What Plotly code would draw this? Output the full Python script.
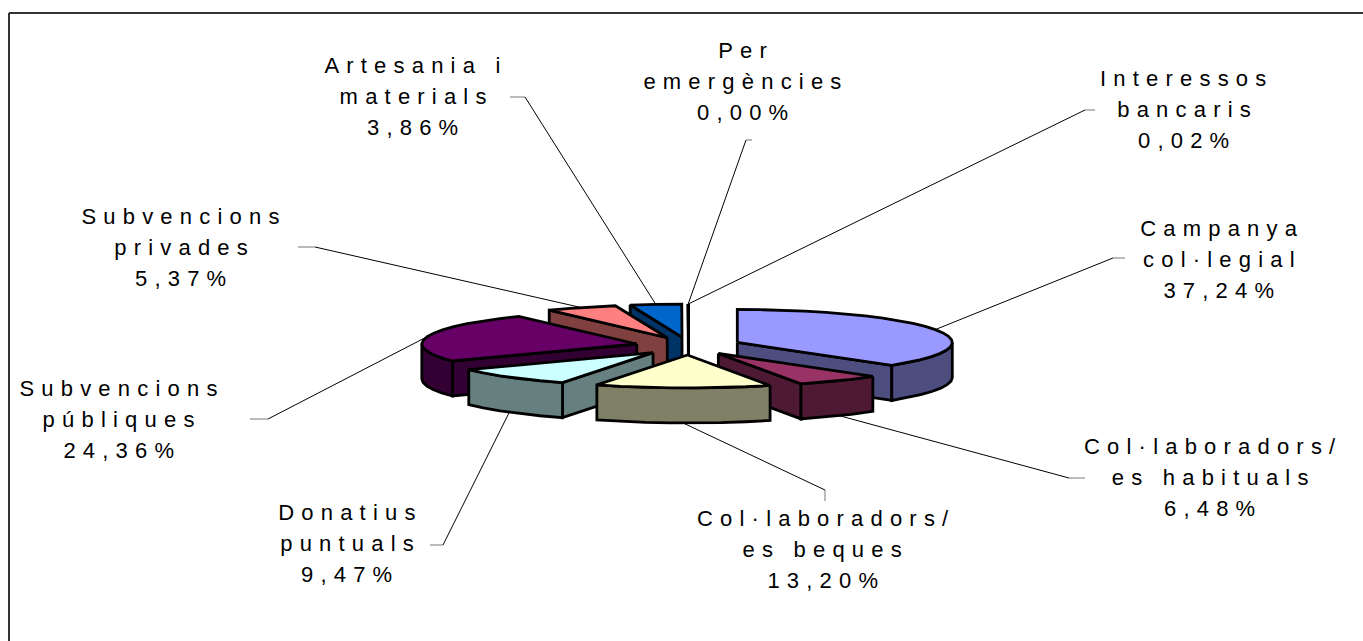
import math
import plotly.graph_objects as go

names = ["Campanya col·legial", "Col·laboradors/es habituals", "Col·laboradors/es beques",
         "Donatius puntuals", "Subvencions públiques", "Subvencions privades",
         "Artesania i materials", "Per emergències", "Interessos bancaris"]
values = [37.24, 6.48, 13.20, 9.47, 24.36, 5.37, 3.86, 0.00, 0.02]
pct_labels = ["37,24%", "6,48%", "13,20%", "9,47%", "24,36%", "5,37%", "3,86%", "0,00%", "0,02%"]
label_lines = [["Campanya", "col·legial"], ["Col·laboradors/", "es habituals"],
               ["Col·laboradors/", "es beques"], ["Donatius", "puntuals"],
               ["Subvencions", "públiques"], ["Subvencions", "privades"],
               ["Artesania i", "materials"], ["Per", "emergències"], ["Interessos", "bancaris"]]
top_colors = ["#9999FF", "#993366", "#FFFFCC", "#CCFFFF", "#660066", "#FF8080", "#0066CC", "#000000", "#000000"]
side_colors = ["#4D4D80", "#4D1933", "#808066", "#668080", "#330033", "#804040", "#003366", "#000000", "#000000"]

# layout in pixels
CX, CY, RX, RY, DEPTH, EXPL = 688.5, 346, 215, 33, 35, 0.2465
label_pos = [(1222, 228), (1213, 446), (826, 518), (350, 512), (122, 388), (184, 216), (416, 65), (746, 50), (1187, 78)]
elbows = [[(1125, 258), (1113, 258)], [(1085, 478), (1069, 478)], [(825, 501), (825, 490)],
          [(430, 545), (443, 545)], [(250, 419), (268, 419)], [(298, 247), (315, 247)],
          [(510, 97), (525, 97)], [(752, 140), (746, 140)], [(1095, 110), (1085, 110)]]
LINE_H = 31
FONT = 22
SPACING = 7.2

fig = go.Figure()
total = sum(values)
slices = []
cum = 0.0
for i, v in enumerate(values):
    a0 = cum / total * 2 * math.pi
    cum += v
    a1 = cum / total * 2 * math.pi
    mid = (a0 + a1) / 2
    ax = CX + EXPL * RX * math.sin(mid)
    ay = CY - 9 * math.cos(mid)
    slices.append((ay, i, a0, a1, mid, ax))


def rim(ax, ay, a, dz=0.0):
    return ax + RX * math.sin(a), ay - RY * math.cos(a) + dz


def poly(pts, fill):
    fig.add_trace(go.Scatter(x=[p[0] for p in pts] + [pts[0][0]], y=[p[1] for p in pts] + [pts[0][1]],
                             mode="lines", fill="toself", fillcolor=fill,
                             line=dict(color="#000000", width=2.8), hoverinfo="skip", showlegend=False))


for ay, i, a0, a1, mid, ax in sorted(slices):
    side = side_colors[i]
    if math.sin(a0) < -1e-9:
        p = rim(ax, ay, a0)
        poly([(ax, ay), p, (p[0], p[1] + DEPTH), (ax, ay + DEPTH)], side)
    if math.sin(a1) > 1e-9:
        p = rim(ax, ay, a1)
        poly([(ax, ay), p, (p[0], p[1] + DEPTH), (ax, ay + DEPTH)], side)
    lo, hi = max(a0, math.pi / 2), min(a1, 3 * math.pi / 2)
    if hi > lo:
        n = max(2, int((hi - lo) / math.radians(6)))
        arc = [lo + (hi - lo) * k / n for k in range(n + 1)]
        poly([rim(ax, ay, a) for a in arc] + [rim(ax, ay, a, DEPTH) for a in reversed(arc)], side)
    n = max(2, int((a1 - a0) / math.radians(6)))
    poly([(ax, ay)] + [rim(ax, ay, a0 + (a1 - a0) * k / n) for k in range(n + 1)], top_colors[i])

frame = dict(color="#333333", width=2)
shapes = [dict(type="line", xref="x", yref="y", x0=9, y0=13, x1=9, y1=641, line=frame, layer="below"),
          dict(type="line", xref="x", yref="y", x0=9, y0=13, x1=1363, y1=13, line=frame, layer="below")]
for ay, i, a0, a1, mid, ax in slices:
    front = math.cos(mid) < -0.3
    x0, y0 = rim(ax, ay, mid, DEPTH if front else 0)
    (ex0, ey0), (ex1, ey1) = elbows[i]
    shapes.append(dict(type="line", xref="x", yref="y", x0=x0, y0=y0, x1=ex1, y1=ey1,
                       line=dict(color="#000000", width=1), layer="above"))
    shapes.append(dict(type="line", xref="x", yref="y", x0=ex1, y0=ey1, x1=ex0, y1=ey0,
                       line=dict(color="#777777", width=1), layer="above"))

annotations = []
for i, lines in enumerate(label_lines):
    lx, ly = label_pos[i]
    for k, txt in enumerate(lines + [pct_labels[i]]):
        annotations.append(dict(x=lx, y=ly + k * LINE_H, xref="x", yref="y", text=txt, showarrow=False,
                                xanchor="center", yanchor="middle",
                                font=dict(family="Liberation Sans, Arial", size=FONT, color="#000000")))

fig.update_layout(width=1363, height=641, margin=dict(l=0, r=0, t=0, b=0), autosize=False,
                  paper_bgcolor="#FFFFFF", plot_bgcolor="#FFFFFF", showlegend=False,
                  xaxis=dict(range=[0, 1363], visible=False, fixedrange=True),
                  yaxis=dict(range=[641, 0], visible=False, fixedrange=True),
                  shapes=shapes, annotations=annotations)

post = ("document.body.style.margin='0';document.documentElement.style.overflow='hidden';"
        "document.querySelectorAll('.annotation-text').forEach(function(t){t.style.letterSpacing='%spx';});" % SPACING)
fig.write_html("out.html", post_script=post, config={"displayModeBar": False})
